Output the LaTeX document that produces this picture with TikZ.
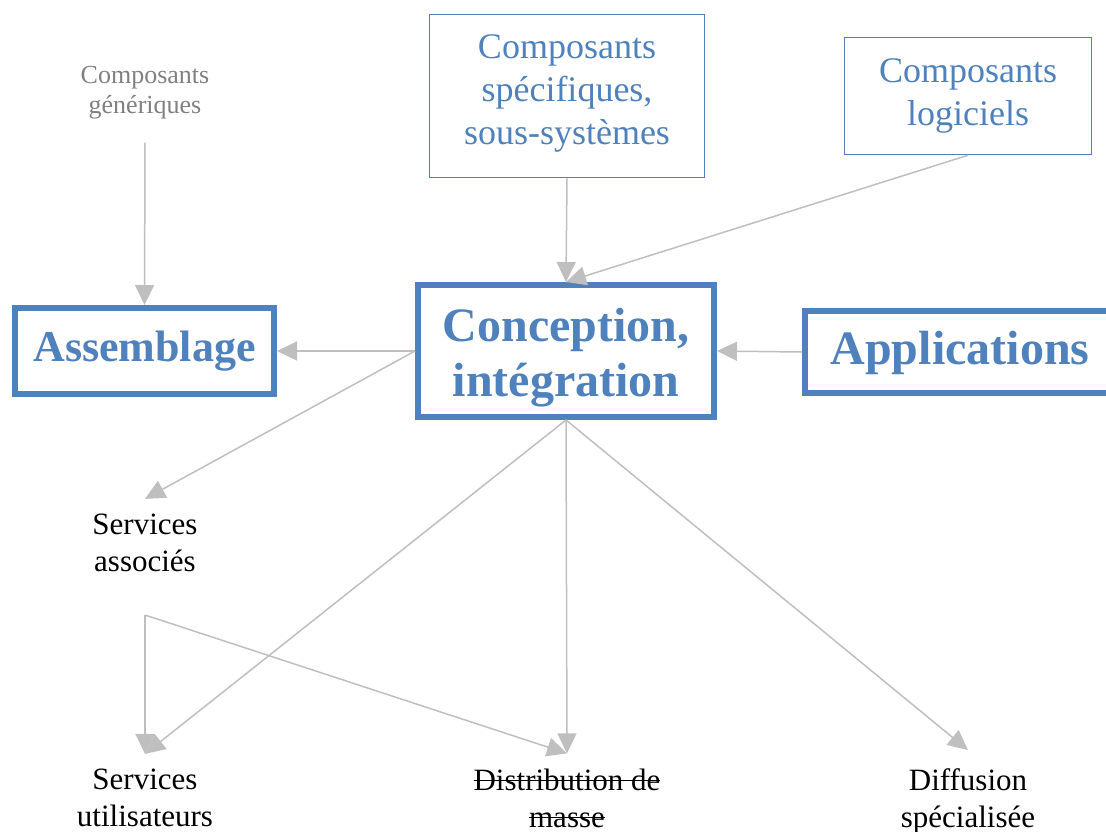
\documentclass[tikz,border=0pt]{standalone}
\usepackage{fontspec}
\setmainfont{Liberation Serif}
\usepackage{tikz}
\usetikzlibrary{arrows.meta, positioning}
\definecolor{compblue}{RGB}{79, 129, 189}
\definecolor{flowgray}{RGB}{191, 191, 191}
\definecolor{labelgray}{RGB}{128, 128, 128}
\newcommand{\strikeword}[1]{\setbox0\hbox{#1}\rlap{\rule[0.28em]{\wd0}{1.5pt}}\box0}
\tikzset{
  thinbox/.style={draw=compblue, line width=1.5pt, text=compblue, align=center, inner sep=0pt, font=\fontsize{36}{43}\selectfont},
  thickbox/.style={draw=compblue, line width=6pt, text=compblue, align=center, inner sep=0pt, font=\bfseries\fontsize{48}{55}\selectfont},
  outtext/.style={align=center, inner xsep=0pt, inner ysep=15pt, font=\fontsize{31}{37}\selectfont},
  flow/.style={draw=flowgray, line width=1.5pt, -{Triangle[length=20pt, width=19pt]}},
}

\begin{document}
\begin{tikzpicture}[x=1pt, y=-1pt]
  \useasboundingbox (0,0) rectangle (1106,831);

  % top row
  \node[align=center, text=labelgray, inner ysep=23pt, font=\fontsize{26}{30}\selectfont] (gen) at (145,93) {Composants\\génériques};
  \node[thinbox, minimum width=275pt, minimum height=163pt] (spec) at (567,96) {Composants\\spécifiques,\\sous-systèmes\rule[-12pt]{0pt}{1pt}};
  \node[thinbox, minimum width=247pt, minimum height=117pt] (logi) at (968,96) {Composants\\logiciels};

  % middle row
  \node[thickbox, minimum width=259pt, minimum height=86pt, font=\bfseries\fontsize{44}{50}\selectfont] (asm) at (144.5,351) {Assemblage};
  \node[thickbox, minimum width=296pt, minimum height=132pt] (conc) at (566,351) {\rule{0pt}{46pt}Conception,\\intégration};
  \node[thickbox, minimum width=310pt, minimum height=82pt] (appl) at (960,352) {\rule{0pt}{36pt}Applications};

  % services and distribution
  \node[outtext] (assoc) at (145,543) {Services\\associés};
  \coordinate (fork) at (145,615);
  \node[outtext] (util) at (145,798) {Services\\utilisateurs};
  \node[outtext] (dist) at (567,798) {\strikeword{Distribution de}\\\strikeword{masse}};
  \node[outtext, inner ysep=18pt] (diff) at (968,801) {Diffusion\\spécialisée};

  % connectors
  \draw[flow] (gen.south) -- (asm.north);
  \draw[flow] (spec.south) -- (conc.north);
  \draw[flow] (logi.south) -- (conc.north);
  \draw[flow] (conc.west) -- (asm.east);
  \draw[flow] (appl.west) -- (conc.east);
  \draw[flow] (conc.west) -- (assoc.north);
  \draw[flow] (conc.south) -- (util.north);
  \draw[flow] (conc.south) -- (dist.north);
  \draw[flow] (conc.south) -- (diff.north);
  \draw[flow] (fork) -- (util.north);
  \draw[flow] (fork) -- (dist.north);
\end{tikzpicture}
\end{document}
